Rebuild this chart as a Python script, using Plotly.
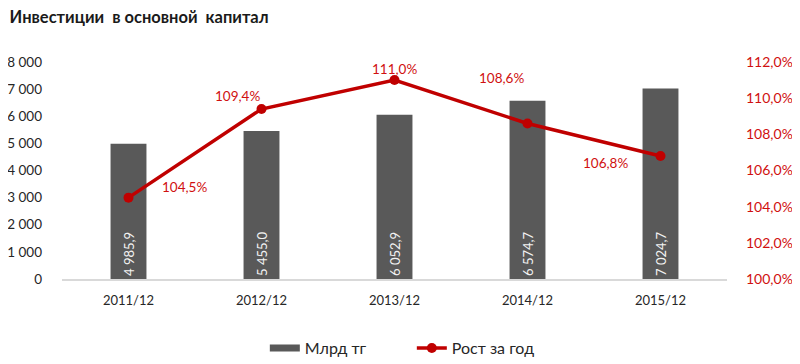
import plotly.graph_objects as go

categories = ["2011/12", "2012/12", "2013/12", "2014/12", "2015/12"]
volume = [4985.9, 5455.0, 6052.9, 6574.7, 7024.7]
growth = [104.5, 109.4, 111.0, 108.6, 106.8]
left_ticks = [0, 1000, 2000, 3000, 4000, 5000, 6000, 7000, 8000]
left_labels = ["0", "1 000", "2 000", "3 000", "4 000", "5 000", "6 000", "7 000", "8 000"]
right_ticks = [100, 102, 104, 106, 108, 110, 112]
right_labels = ["100,0%", "102,0%", "104,0%", "106,0%", "108,0%", "110,0%", "112,0%"]

FONT = "Lato"
BAR = "#595959"
LINE = "#C00000"
RED_TXT = "#D01010"

fig = go.Figure()
fig.add_trace(go.Bar(
    x=categories, y=volume, name="Млрд тг", showlegend=False,
    marker=dict(color=BAR, line=dict(width=0)), width=0.27,
    texttemplate="%{y:,.1f}", textposition="inside", insidetextanchor="start",
    textangle=-90, textfont=dict(color="#F2F2F2", size=13, family=FONT),
))
fig.add_trace(go.Scatter(
    x=[None], y=[None], name="Млрд тг", mode="lines",
    line=dict(color=BAR, width=7),
))
fig.add_trace(go.Scatter(
    x=categories, y=growth, name="Рост за год", yaxis="y2",
    mode="lines+markers", line=dict(color=LINE, width=3.5),
    marker=dict(size=10, color=LINE),
))

offsets = [(56, 11), (-24, 13), (0, 11), (-26, 45), (-55, -7)]
for c, g, (dx, dy) in zip(categories, growth, offsets):
    fig.add_annotation(x=c, y=g, yref="y2", text=f"{g:.1f}%".replace(".", ","),
                       showarrow=False, xshift=dx, yshift=dy,
                       font=dict(color=RED_TXT, size=13.5, family=FONT))

fig.update_layout(
    width=792, height=356, separators=", ",
    paper_bgcolor="white", plot_bgcolor="white",
    margin=dict(l=54, r=73, t=54, b=85, autoexpand=False),
    font=dict(family=FONT, size=13, color="#262626"),
    title=dict(text="<b>Инвестиции  в основной  капитал</b>", x=0.002, xanchor="left",
               y=0.99, yanchor="top", font=dict(size=16.5, color="#1a1a1a", family=FONT)),
    xaxis=dict(showgrid=False, showline=True, linecolor="#D9D9D9", linewidth=1.5,
               ticks="", tickfont=dict(size=13, color="#262626"), ticklabelstandoff=9),
    yaxis=dict(range=[0, 8000], tickvals=left_ticks, ticktext=left_labels,
               showgrid=False, zeroline=False, showline=False, ticks="",
               tickfont=dict(size=13.5, color="#262626"), ticklabelstandoff=19),
    yaxis2=dict(range=[100, 112], tickvals=right_ticks, ticktext=right_labels,
                overlaying="y", side="right", showgrid=False, zeroline=False,
                showline=False, ticks="", tickfont=dict(size=14, color=RED_TXT),
                ticklabelstandoff=18),
    legend=dict(orientation="h", x=0.305, xanchor="left", y=-0.24, yanchor="top",
                font=dict(size=16, color="#262626"), tracegroupgap=0,
                entrywidth=102, entrywidthmode="pixels"),
    bargap=0.73,
)

fig.write_html("out.html")
